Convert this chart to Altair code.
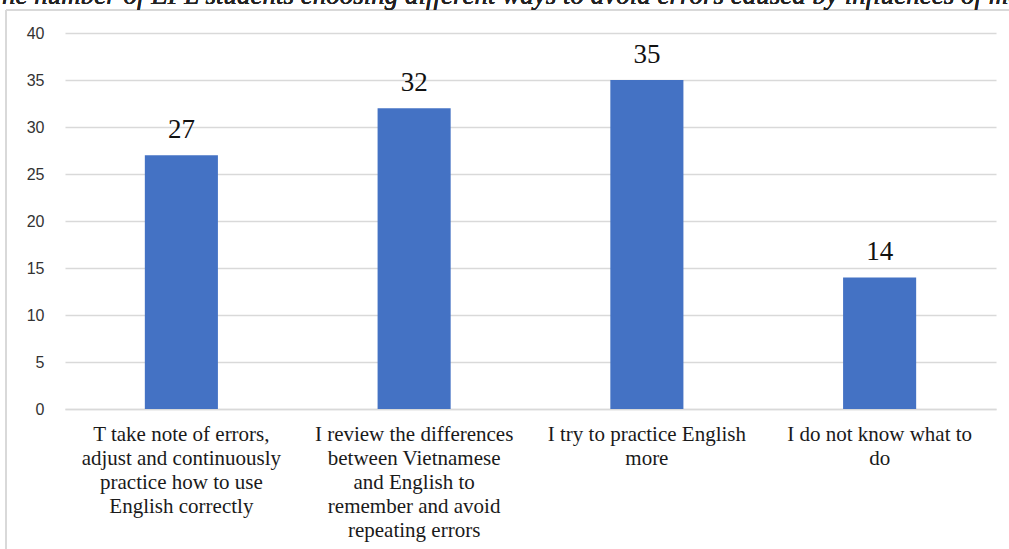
import altair as alt
import pandas as pd

categories = [
    "T take note of errors,\nadjust and continuously\npractice how to use\nEnglish correctly",
    "I review the differences\nbetween Vietnamese\nand English to\nremember and avoid\nrepeating errors",
    "I try to practice English\nmore",
    "I do not know what to\ndo",
]
values = [27, 32, 35, 14]
title_text = "The number of EFL students choosing different ways to avoid errors caused by influences of mother tongue"

df = pd.DataFrame({"cat": categories, "val": values})

W, H = 931, 376
PL, PT = 65, 33

x_enc = alt.X(
    "cat:N",
    sort=None,
    title=None,
    scale=alt.Scale(paddingInner=0.686, paddingOuter=0.343),
    axis=alt.Axis(
        labelAngle=0,
        labelExpr="split(datum.label, '\\n')",
        labelFont="Liberation Serif",
        labelFontSize=21,
        labelColor="#1a1a1a",
        labelLineHeight=24,
        labelPadding=14,
        labelBaseline="top",
        labelLimit=300,
        ticks=False,
        domainColor="#d9d9d9",
        domainWidth=1.5,
        grid=False,
    ),
)
y_enc = alt.Y(
    "val:Q",
    title=None,
    scale=alt.Scale(domain=[0, 40], nice=False),
    axis=alt.Axis(
        values=[0, 5, 10, 15, 20, 25, 30, 35, 40],
        labelFont="Liberation Sans",
        labelFontSize=16,
        labelColor="#333333",
        labelPadding=21,
        ticks=False,
        domain=False,
        grid=True,
        gridColor="#d9d9d9",
        gridWidth=1.5,
    ),
)

base = alt.Chart(df)
bars = base.mark_bar(color="#4472C4").encode(x=x_enc, y=y_enc)
labels = base.mark_text(
    font="Liberation Serif", fontSize=27, color="#111111", dy=-17, baseline="alphabetic"
).encode(x=alt.X("cat:N", sort=None), y="val:Q", text="val:Q")

title = base.mark_text(
    font="Liberation Serif", fontSize=27, fontStyle="italic", align="left",
    baseline="alphabetic", color="#222222",
).encode(x=alt.value(-PL - 13), y=alt.value(-PT + 4), text=alt.value(title_text))

frame_left = base.mark_rule(color="#d9d9d9", strokeWidth=1.5).encode(
    x=alt.value(-PL + 6), y=alt.value(-PT + 10), y2=alt.value(H + 200)
)
frame_top = base.mark_rule(color="#d9d9d9", strokeWidth=1.5).encode(
    x=alt.value(-PL + 6), x2=alt.value(W + 50), y=alt.value(-PT + 10)
)

chart = alt.layer(frame_left, frame_top, bars, labels, title).properties(
    width=W,
    height=H,
    autosize=alt.AutoSizeParams(type="none"),
    padding={"left": PL, "top": PT, "right": 1009 - PL - W, "bottom": 549 - PT - H},
).configure(background="white").configure_view(stroke=None)

chart.save("out.html", embed_options={"renderer": "svg", "actions": False})
